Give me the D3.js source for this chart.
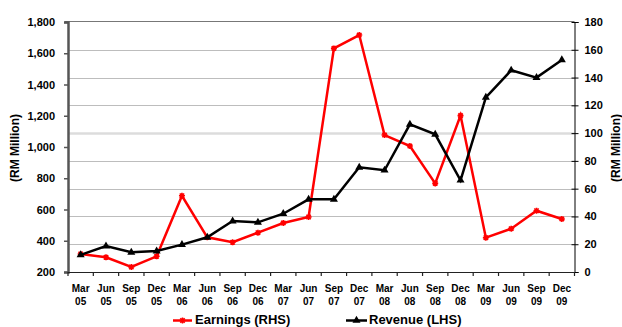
<!DOCTYPE html>
<html>
<head>
<meta charset="utf-8">
<script src="https://cdn.jsdelivr.net/npm/d3@7"></script>
<style>
  html, body { margin: 0; padding: 0; background: #fff; }
  svg { display: block; font-family: "Liberation Sans", Arial, sans-serif; font-weight: bold; }
</style>
</head>
<body>
<svg id="chart" width="622" height="327"></svg>
<script>
// Quarter labels (two lines each)
const quarters = ["Mar", "Jun", "Sep", "Dec", "Mar", "Jun", "Sep", "Dec", "Mar", "Jun",
                  "Sep", "Dec", "Mar", "Jun", "Sep", "Dec", "Mar", "Jun", "Sep", "Dec"];
const years = ["05", "05", "05", "05", "06", "06", "06", "06", "07", "07",
               "07", "07", "08", "08", "08", "08", "09", "09", "09", "09"];

// Revenue, RM million (left-hand scale)
const revenue = [310, 366, 326, 334, 375, 422, 526, 518, 573, 665,
                 665, 870, 851, 1145, 1081, 787, 1318, 1491, 1444, 1557];

// Earnings, RM million (right-hand scale)
const earnings = [13.0, 10.6, 3.6, 11.3, 54.9, 25.0, 21.4, 28.3, 35.3, 39.6,
                  161.0, 170.6, 98.6, 90.7, 63.8, 112.6, 24.7, 31.2, 44.1, 38.2];

const leftTicks = [200, 400, 600, 800, 1000, 1200, 1400, 1600, 1800];
const rightTicks = [0, 20, 40, 60, 80, 100, 120, 140, 160, 180];

const svg = d3.select("#chart");
const L = 68, R = 574.5, T = 22, B = 272;

const keys = quarters.map((q, i) => i);
const x = d3.scaleBand().domain(keys).range([L, R]);
const cx = i => x(i) + x.bandwidth() / 2;
const yL = d3.scaleLinear().domain([200, 1800]).range([B, T]);
const yR = d3.scaleLinear().domain([0, 180]).range([B, T]);

// Horizontal gridlines on the right-hand scale
svg.append("g").selectAll("line")
  .data(rightTicks.filter(v => v > 0 && v < 180))
  .join("line")
  .attr("x1", L).attr("x2", R)
  .attr("y1", d => Math.round(yR(d)) + 0.5).attr("y2", d => Math.round(yR(d)) + 0.5)
  .attr("stroke", d => d === 100 ? "#dcdcdc" : "#bdbdbd")
  .attr("stroke-width", d => d === 100 ? 2.5 : 1);

// Top border of the plot area
svg.append("line")
  .attr("x1", L - 3).attr("x2", R).attr("y1", T - 0.5).attr("y2", T - 0.5)
  .attr("stroke", "#777").attr("stroke-width", 1.2);

// Left axis
const axL = svg.append("g").attr("transform", `translate(${L},0)`)
  .call(d3.axisLeft(yL).tickValues(leftTicks).tickFormat(d3.format(",")).tickSize(4).tickPadding(9));
axL.select(".domain").attr("stroke", "#555").attr("stroke-width", 2.5);
axL.selectAll(".tick line").attr("stroke", "#555").attr("stroke-width", 1.5);
axL.selectAll("text").attr("font-size", 11).attr("font-weight", "bold").attr("fill", "#000")
  .attr("font-family", "Liberation Sans, Arial, sans-serif");

// Right axis
const axR = svg.append("g").attr("transform", `translate(${R},0)`)
  .call(d3.axisRight(yR).tickValues(rightTicks).tickSize(4).tickPadding(6));
axR.select(".domain").attr("stroke", "#000").attr("stroke-width", 1);
axR.selectAll(".tick line").attr("stroke", "#000").attr("x1", -3);
axR.selectAll("text").attr("font-size", 11).attr("font-weight", "bold").attr("fill", "#000")
  .attr("font-family", "Liberation Sans, Arial, sans-serif");

// Bottom axis: ticks at category boundaries
const axB = svg.append("g");
axB.append("line").attr("x1", L).attr("x2", R).attr("y1", B + 0.5).attr("y2", B + 0.5)
  .attr("stroke", "#222").attr("stroke-width", 1.2);
axB.selectAll(".bt").data(d3.range(quarters.length + 1)).join("line")
  .attr("x1", i => i < quarters.length ? x(i) : R).attr("x2", i => i < quarters.length ? x(i) : R)
  .attr("y1", B).attr("y2", B + 4).attr("stroke", "#222").attr("stroke-width", 1.2);
const lbl = axB.selectAll(".lb").data(keys).join("text")
  .attr("text-anchor", "middle").attr("font-size", 10).attr("fill", "#000");
lbl.append("tspan").attr("x", cx).attr("y", 292).text(i => quarters[i]);
lbl.append("tspan").attr("x", cx).attr("y", 305).text(i => years[i]);

// Axis titles
svg.append("text").attr("transform", "translate(19,148) rotate(-90)")
  .attr("text-anchor", "middle").attr("font-size", 12).text("(RM Million)");
svg.append("text").attr("transform", "translate(620,148) rotate(-90)")
  .attr("text-anchor", "middle").attr("font-size", 12).text("(RM Million)");

// Lines
const lineL = d3.line().x((d, i) => cx(i)).y(d => yL(d));
const lineR = d3.line().x((d, i) => cx(i)).y(d => yR(d));

const starPath = "M-3,0L3,0M0,-3L0,3M-2.2,-2.2L2.2,2.2M-2.2,2.2L2.2,-2.2";
const tri = d3.symbol().type(d3.symbolTriangle).size(28);

svg.append("path").datum(earnings).attr("d", lineR)
  .attr("fill", "none").attr("stroke", "#ff0000").attr("stroke-width", 2.5).attr("stroke-linejoin", "miter");
svg.append("g").selectAll("path").data(earnings).join("path")
  .attr("transform", (d, i) => `translate(${cx(i)},${yR(d)})`)
  .attr("d", starPath).attr("stroke", "#ff0000").attr("stroke-width", 1.6);

svg.append("path").datum(revenue).attr("d", lineL)
  .attr("fill", "none").attr("stroke", "#000").attr("stroke-width", 2.5).attr("stroke-linejoin", "miter");
svg.append("g").selectAll("path").data(revenue).join("path")
  .attr("transform", (d, i) => `translate(${cx(i)},${yL(d)})`)
  .attr("d", tri).attr("fill", "#000");

// Legend
const lg = svg.append("g");
lg.append("line").attr("x1", 173).attr("x2", 192).attr("y1", 320.5).attr("y2", 320.5)
  .attr("stroke", "#ff0000").attr("stroke-width", 2.5);
lg.append("path").attr("transform", "translate(182.5,320.5)").attr("d", starPath)
  .attr("stroke", "#ff0000").attr("stroke-width", 1.6);
lg.append("text").attr("x", 195).attr("y", 324).attr("font-size", 13).text("Earnings (RHS)");
lg.append("line").attr("x1", 346).attr("x2", 367).attr("y1", 320.5).attr("y2", 320.5)
  .attr("stroke", "#000").attr("stroke-width", 2.5);
lg.append("path").attr("transform", "translate(356.5,320.5)").attr("d", tri).attr("fill", "#000");
lg.append("text").attr("x", 369).attr("y", 324).attr("font-size", 13).text("Revenue (LHS)");
</script>
</body>
</html>
